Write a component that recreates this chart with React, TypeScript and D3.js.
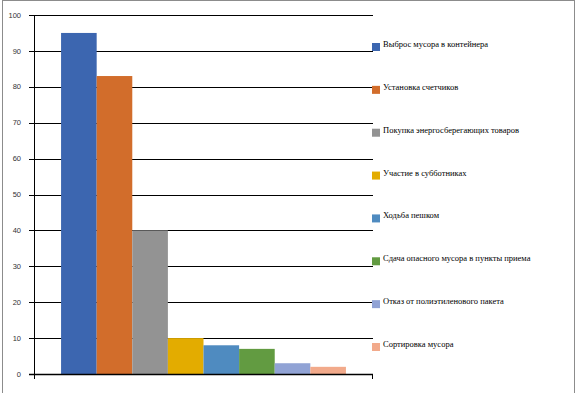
import React, { useEffect, useRef } from 'react';
import * as d3 from 'd3';

// Data
const series = [
  'Выброс мусора в контейнера',
  'Установка счетчиков',
  'Покупка энергосберегающих товаров',
  'Участие в субботниках',
  'Ходьба пешком',
  'Сдача опасного мусора в пункты приема',
  'Отказ от полиэтиленового пакета',
  'Сортировка мусора',
];
const values = [95, 83, 40, 10, 8, 7, 3, 2];
const colors = ['#3C66B0', '#D26D2B', '#939393', '#E3AC00', '#4F8BC0', '#629B41', '#91A3D5', '#F2AA8B'];
const yTicks = [0, 10, 20, 30, 40, 50, 60, 70, 80, 90, 100];

export default function App() {
  const svgRef = useRef<SVGSVGElement>(null);

  useEffect(() => {
    const W = 578;
    const H = 393;
    const svg = d3.select(svgRef.current);
    svg.selectAll('*').remove();
    svg.attr('width', W).attr('height', H);

    // outer frame
    svg.append('rect')
      .attr('x', 2.5).attr('y', 0.5)
      .attr('width', 572).attr('height', 400)
      .attr('fill', '#fff')
      .attr('stroke', '#8c8c8c');

    const left = 34;
    const right = 373;
    const top = 15;
    const bottom = 374;

    const y = d3.scaleLinear().domain([0, 100]).range([bottom, top]);
    const x = d3.scaleBand<string>()
      .domain(series)
      .range([left, right])
      .paddingInner(0)
      .paddingOuter(0.76);

    // gridlines
    svg.append('g')
      .selectAll('line')
      .data(yTicks)
      .join('line')
      .attr('x1', left - 5)
      .attr('x2', right)
      .attr('y1', d => Math.round(y(d)) + 0.5)
      .attr('y2', d => Math.round(y(d)) + 0.5)
      .attr('stroke', '#000')
      .attr('stroke-width', 1);

    // bars
    svg.append('g')
      .selectAll('rect')
      .data(values)
      .join('rect')
      .attr('x', (d, i) => x(series[i])!)
      .attr('width', x.bandwidth())
      .attr('y', d => y(d))
      .attr('height', d => bottom - y(d))
      .attr('fill', (d, i) => colors[i]);

    // y axis line
    svg.append('line')
      .attr('x1', left + 0.5).attr('x2', left + 0.5)
      .attr('y1', top).attr('y2', bottom + 5)
      .attr('stroke', '#000');
    // x axis line + right tick
    svg.append('line')
      .attr('x1', left - 5).attr('x2', right)
      .attr('y1', Math.round(bottom) + 0.5).attr('y2', Math.round(bottom) + 0.5)
      .attr('stroke', '#000').attr('stroke-width', 1.5);
    svg.append('line')
      .attr('x1', right - 0.5).attr('x2', right - 0.5)
      .attr('y1', bottom).attr('y2', bottom + 5)
      .attr('stroke', '#000');

    // y tick labels
    svg.append('g')
      .selectAll('text')
      .data(yTicks)
      .join('text')
      .attr('x', 21)
      .attr('y', d => y(d))
      .attr('dy', '0.35em')
      .attr('text-anchor', 'end')
      .attr('font-family', 'Liberation Sans, Arial, sans-serif')
      .attr('font-size', 7.5)
      .attr('fill', '#333')
      .text(d => d);

    // legend
    const leg = svg.append('g');
    const ly = d3.scalePoint<string>().domain(series).range([47, 347]);
    series.forEach((s, i) => {
      const cy = ly(s)!;
      leg.append('rect')
        .attr('x', 372).attr('y', cy - 4)
        .attr('width', 8).attr('height', 8)
        .attr('fill', colors[i]);
      leg.append('text')
        .attr('x', 383).attr('y', cy - 3)
        .attr('dy', '0.35em')
        .attr('font-family', 'Liberation Serif, Times New Roman, serif')
        .attr('font-size', 8.5)
        .attr('fill', '#000')
        .text(s);
    });
  }, []);

  return (
    <div style={{ position: 'fixed', left: 0, top: 0 }}>
      <svg ref={svgRef} style={{ display: 'block' }}></svg>
    </div>
  );
}
